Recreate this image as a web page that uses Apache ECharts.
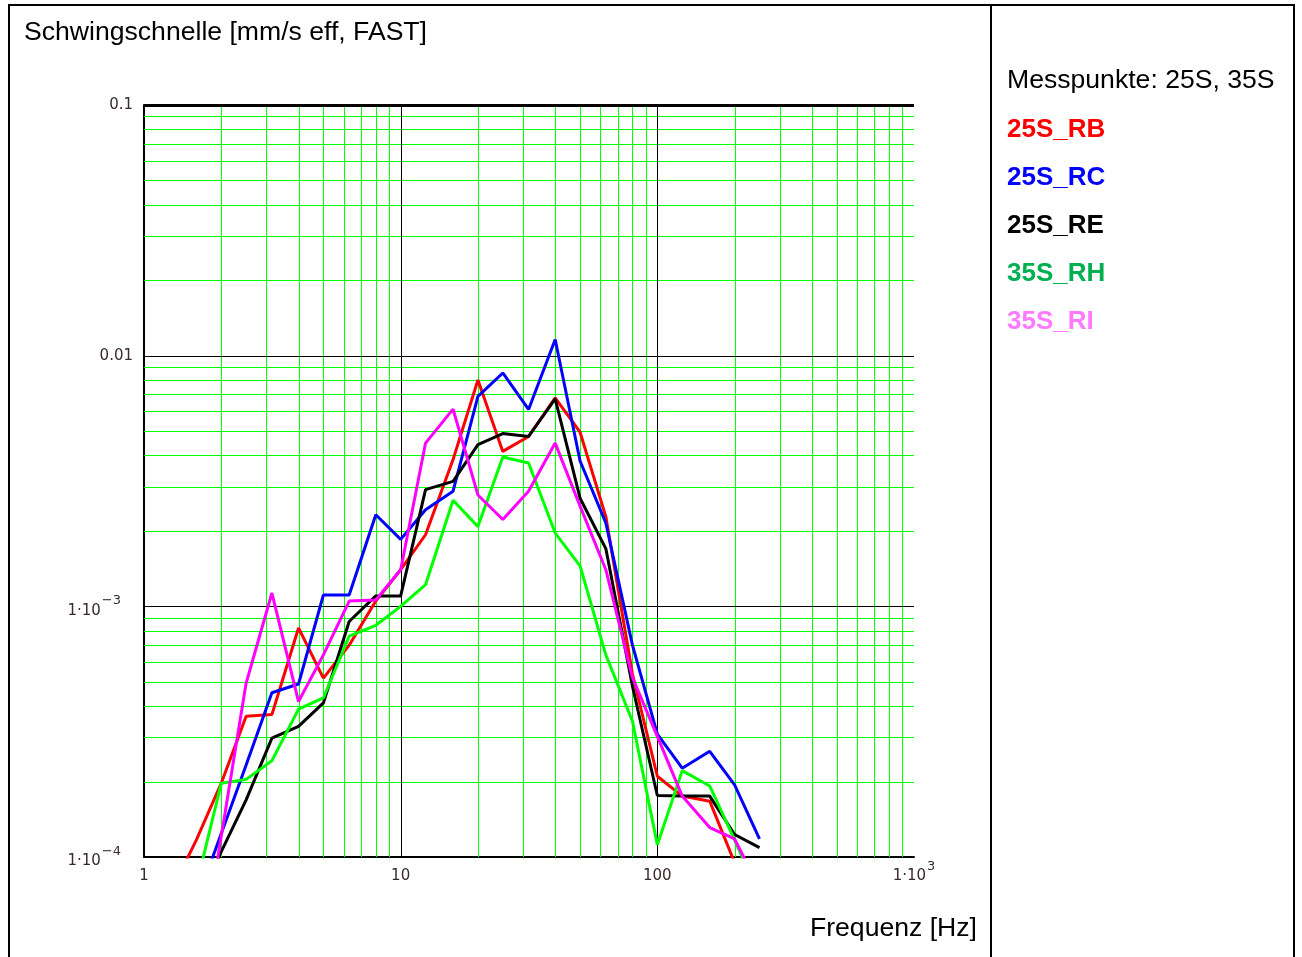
<!DOCTYPE html>
<html><head><meta charset="utf-8">
<script src="https://cdn.jsdelivr.net/npm/echarts@6/dist/echarts.min.js"></script>
<style>html,body{margin:0;padding:0;background:#fff;}#c{width:1302px;height:957px;}</style>
</head><body><div id="c"></div>
<script>
// Third-octave band centre frequencies [Hz]
const freqs = [1.25, 1.6, 2, 2.5, 3.15, 4, 5, 6.3, 8, 10, 12.5, 16, 20, 25, 31.5, 40, 50, 63, 80, 100, 125, 160, 200, 250];
// Velocity [mm/s eff]
const s25S_RB = [7e-5, 1.17e-4, 1.97e-4, 3.64e-4, 3.70e-4, 8.2e-4, 5.17e-4, 7.0e-4, 1.05e-3, 1.40e-3, 1.93e-3, 3.85e-3, 8.0e-3, 4.15e-3, 4.76e-3, 6.78e-3, 4.95e-3, 2.28e-3, 5.37e-4, 2.1e-4, 1.75e-4, 1.67e-4, 9.5e-5, null];
const s25S_RC = [null, 6.6e-5, 1.24e-4, 2.33e-4, 4.52e-4, 4.9e-4, 1.11e-3, 1.11e-3, 2.32e-3, 1.85e-3, 2.43e-3, 2.88e-3, 6.88e-3, 8.53e-3, 6.1e-3, 1.16e-2, 3.8e-3, 2.15e-3, 7.0e-4, 3.09e-4, 2.26e-4, 2.64e-4, 1.94e-4, 1.18e-4];
const s25S_RE = [null, 6.4e-5, 1.05e-4, 1.69e-4, 2.98e-4, 3.32e-4, 4.12e-4, 8.7e-4, 1.10e-3, 1.10e-3, 2.92e-3, 3.15e-3, 4.42e-3, 4.89e-3, 4.76e-3, 6.73e-3, 2.7e-3, 1.7e-3, 4.8e-4, 1.76e-4, 1.75e-4, 1.75e-4, 1.23e-4, 1.09e-4];
const s35S_RH = [null, 7.7e-5, 1.97e-4, 2.04e-4, 2.42e-4, 3.89e-4, 4.31e-4, 7.6e-4, 8.4e-4, 1.0e-3, 1.22e-3, 2.65e-3, 2.08e-3, 3.94e-3, 3.73e-3, 1.96e-3, 1.45e-3, 6.4e-4, 3.48e-4, 1.12e-4, 2.21e-4, 1.92e-4, 1.17e-4, 7e-5];
const s35S_RI = [null, 3e-5, 1.21e-4, 4.94e-4, 1.13e-3, 4.17e-4, 6.4e-4, 1.05e-3, 1.06e-3, 1.40e-3, 4.48e-3, 6.12e-3, 2.78e-3, 2.22e-3, 2.88e-3, 4.48e-3, 2.51e-3, 1.4e-3, 5.2e-4, 3.03e-4, 1.75e-4, 1.31e-4, 1.18e-4, 7.5e-5];
const seriesNames = ['25S_RB', '25S_RC', '25S_RE', '35S_RH', '35S_RI'];
// Grid values
const xMajor = [10, 100];
const yMajor = [1e-3, 1e-2];
const xMinor = [2,3,4,5,6,7,8,9,20,30,40,50,60,70,80,90,200,300,400,500,600,700,800,900];
const yMinor = [2e-4,3e-4,4e-4,5e-4,6e-4,7e-4,8e-4,9e-4,2e-3,3e-3,4e-3,5e-3,6e-3,7e-3,8e-3,9e-3,0.02,0.03,0.04,0.05,0.06,0.07,0.08,0.09];
const X_MIN = 1, X_MAX = 1000, Y_MIN = 1e-4, Y_MAX = 0.1;

const lineColors = ['#ff0000', '#0000ff', '#000000', '#00ff00', '#ff00ff'];
const legendColors = ['#ff0000', '#0000ff', '#000000', '#00b050', '#ff7aff'];
const seriesData = [s25S_RB, s25S_RC, s25S_RE, s35S_RH, s35S_RI];

const chart = echarts.init(document.getElementById('c'), null, {renderer: 'canvas'});

function expOf(v) { return Math.round(Math.log10(v)); }
const TICK_FONT = 'DejaVu Sans';
const TICK_COL = '#3a2a2a';
const TEXT_SIZE = 26.6;

function makeV(color) {
  return function (params, api) {
    const x = api.value(0);
    const p1 = api.coord([x, Y_MIN]);
    const p2 = api.coord([x, Y_MAX]);
    const xx = Math.round(p1[0]) + 0.5;
    return {type: 'line', shape: {x1: xx, y1: p1[1], x2: xx, y2: p2[1]}, style: {stroke: color, lineWidth: 1}};
  };
}
function makeH(color) {
  return function (params, api) {
    const y = api.value(1);
    const p1 = api.coord([X_MIN, y]);
    const p2 = api.coord([X_MAX, y]);
    const yy = Math.round(p1[1]) + 0.5;
    return {type: 'line', shape: {x1: p1[0], y1: yy, x2: p2[0], y2: yy}, style: {stroke: color, lineWidth: 1}};
  };
}

const series = [
  {type: 'custom', name: 'gxm', renderItem: makeV('#00ff00'), data: xMinor.map(v => [v, Y_MIN]), z: 1, silent: true, clip: false},
  {type: 'custom', name: 'gym', renderItem: makeH('#00ff00'), data: yMinor.map(v => [X_MIN, v]), z: 1, silent: true, clip: false},
  {type: 'custom', name: 'gxM', renderItem: makeV('#000000'), data: xMajor.map(v => [v, Y_MIN]), z: 2, silent: true, clip: false},
  {type: 'custom', name: 'gyM', renderItem: makeH('#000000'), data: yMajor.map(v => [X_MIN, v]), z: 2, silent: true, clip: false}
];
seriesNames.forEach((n, k) => {
  const d = [];
  freqs.forEach((f, i) => { if (seriesData[k][i] != null) d.push([f, seriesData[k][i]]); });
  series.push({
    type: 'line', name: n, data: d, showSymbol: false, symbol: 'none', clip: true, z: 3 + k,
    lineStyle: {color: lineColors[k], width: 3}, itemStyle: {color: lineColors[k]}, animation: false
  });
});

chart.setOption({
  animation: false,
  backgroundColor: '#ffffff',
  title: {
    text: 'Schwingschnelle [mm/s eff, FAST]', left: 19, top: 14,
    textStyle: {fontFamily: 'Liberation Sans', fontSize: TEXT_SIZE, fontWeight: 'normal', color: '#000'}
  },
  legend: {
    orient: 'vertical', left: 997, top: 110, itemWidth: 0, itemHeight: 0, itemGap: 18,
    selectedMode: false, icon: 'rect',
    textStyle: {fontFamily: 'Liberation Sans', fontSize: 26, fontWeight: 'bold', lineHeight: 30},
    data: seriesNames.map((n, k) => ({name: n, textStyle: {color: legendColors[k]}}))
  },
  grid: {left: 144, top: 105, width: 770, height: 752, containLabel: false, show: false},
  xAxis: {
    type: 'log', logBase: 10, min: X_MIN, max: X_MAX, splitNumber: 3,
    axisLine: {show: true, onZero: false, lineStyle: {color: '#000', width: 2}},
    axisTick: {show: false}, minorTick: {show: false},
    splitLine: {show: false}, minorSplitLine: {show: false},
    axisLabel: {
      margin: 3,
      rich: {
        b: {fontFamily: TICK_FONT, fontSize: 15, color: TICK_COL, verticalAlign: 'bottom'},
        s: {fontFamily: TICK_FONT, fontSize: 13, color: TICK_COL, verticalAlign: 'bottom', padding: [0, 0, 11, 1]},
        z: {fontFamily: TICK_FONT, fontSize: 13, color: TICK_COL, verticalAlign: 'bottom', padding: [0, 0, 11, 0]}
      },
      formatter: function (v) {
        const e = expOf(v);
        if (e === 0) return '{b|1}{z|\u200b}';
        if (e === 1) return '{b|10}{z|\u200b}';
        if (e === 2) return '{b|100}{z|\u200b}';
        return '{b|1·10}{s|' + e + '}';
      }
    }
  },
  yAxis: {
    type: 'log', logBase: 10, min: Y_MIN, max: Y_MAX, splitNumber: 3,
    axisLine: {show: true, onZero: false, lineStyle: {color: '#000', width: 2}},
    axisTick: {show: false}, minorTick: {show: false},
    splitLine: {show: false}, minorSplitLine: {show: false},
    axisLabel: {
      margin: 11,
      rich: {
        b: {fontFamily: TICK_FONT, fontSize: 15, color: TICK_COL, verticalAlign: 'bottom'},
        s: {fontFamily: TICK_FONT, fontSize: 13, color: TICK_COL, verticalAlign: 'bottom', padding: [0, 12, 11, 1]}
      },
      formatter: function (v) {
        const e = expOf(v);
        if (e === -1) return '{b|0.1}';
        if (e === -2) return '{b|0.01}';
        return '{b|1·10}{s|\u2212' + (-e) + '}';
      }
    }
  },
  graphic: [
    {type: 'rect', shape: {x: 9, y: 5, width: 1285, height: 960}, style: {fill: 'none', stroke: '#000', lineWidth: 2}, silent: true, z: 0},
    {type: 'line', shape: {x1: 991, y1: 5, x2: 991, y2: 957}, style: {stroke: '#000', lineWidth: 2}, silent: true},
    {type: 'rect', shape: {x: 144, y: 104, width: 770, height: 3}, style: {fill: '#000'}, silent: true, z: 10},
    {type: 'text', x: 1007, y: 81, style: {text: 'Messpunkte: 25S, 35S', fontFamily: 'Liberation Sans', fontSize: TEXT_SIZE, fill: '#000', verticalAlign: 'middle', align: 'left'}},
    {type: 'text', x: 977, y: 929, style: {text: 'Frequenz [Hz]', fontFamily: 'Liberation Sans', fontSize: TEXT_SIZE, fill: '#000', verticalAlign: 'middle', align: 'right'}}
  ],
  series: series
});
</script>
</body></html>
